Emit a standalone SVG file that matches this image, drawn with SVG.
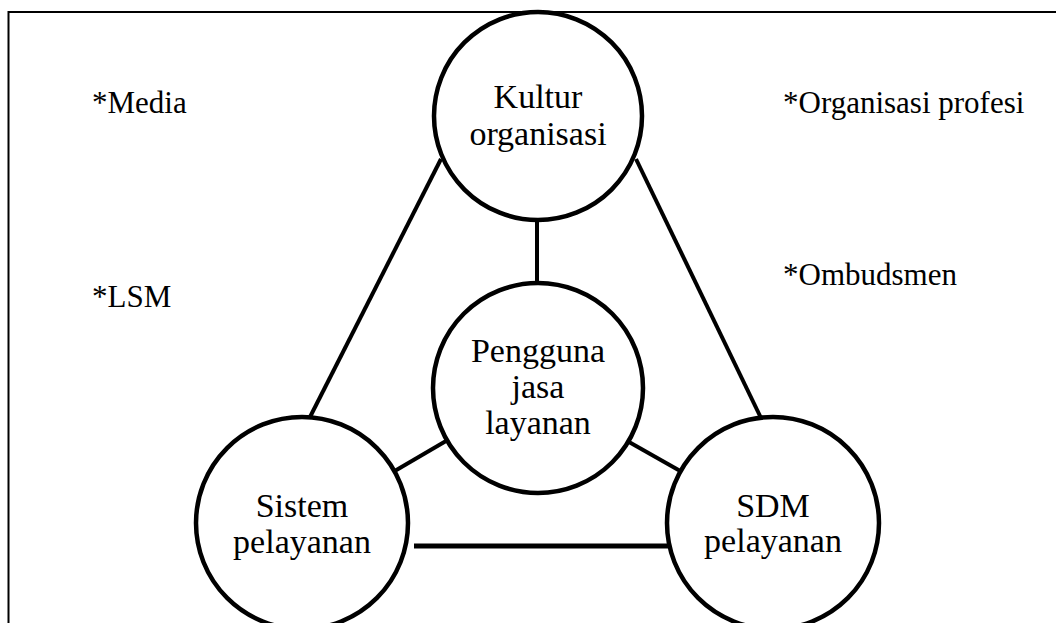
<svg xmlns="http://www.w3.org/2000/svg" width="1056" height="623" viewBox="0 0 1056 623">
<style>
.frame{stroke:#000;stroke-width:2;fill:none}
.node{fill:#fff;stroke:#000;stroke-width:4.5}
.edge{stroke:#000;stroke-width:4;fill:none}
.t{font-size:34px;fill:#000;text-anchor:middle}
.s{font-size:31px;fill:#000}
</style>
<rect width="1056" height="623" fill="#fff"/>
<g id="frame">
<line class="frame" x1="8.5" y1="12" x2="1056" y2="12"/>
<line class="frame" x1="8.5" y1="11" x2="8.5" y2="623"/>
</g>
<g id="connectors">
<line class="edge" x1="441" y1="159" x2="310" y2="417"/>
<line class="edge" x1="636" y1="159" x2="761" y2="418"/>
<line class="edge" x1="537" y1="219" x2="537" y2="284"/>
<line class="edge" x1="393" y1="472" x2="446" y2="441"/>
<line class="edge" x1="629" y1="442" x2="682" y2="472"/>
<line class="edge" x1="414" y1="546" x2="668" y2="546" style="stroke-width:5"/>
</g>
<g font-family="Liberation Serif, Times New Roman, Tinos, serif">
<g id="kultur">
<circle class="node" cx="538" cy="116" r="104"/>
<text class="t" x="538" y="108">Kultur</text>
<text class="t" x="538" y="145">organisasi</text>
</g>
<g id="pengguna">
<circle class="node" cx="538" cy="388" r="105"/>
<text class="t" x="538" y="362">Pengguna</text>
<text class="t" x="538" y="398">jasa</text>
<text class="t" x="538" y="434">layanan</text>
</g>
<g id="sistem">
<circle class="node" cx="302" cy="523" r="106"/>
<text class="t" x="302" y="517">Sistem</text>
<text class="t" x="302" y="553">pelayanan</text>
</g>
<g id="sdm">
<circle class="node" cx="773" cy="523" r="106"/>
<text class="t" x="773" y="517">SDM</text>
<text class="t" x="773" y="552">pelayanan</text>
</g>
<g id="labels">
<text class="s" x="92" y="113">*Media</text>
<text class="s" x="783" y="113">*Organisasi profesi</text>
<text class="s" x="92" y="307">*LSM</text>
<text class="s" x="783" y="285">*Ombudsmen</text>
</g>
</g>
</svg>
